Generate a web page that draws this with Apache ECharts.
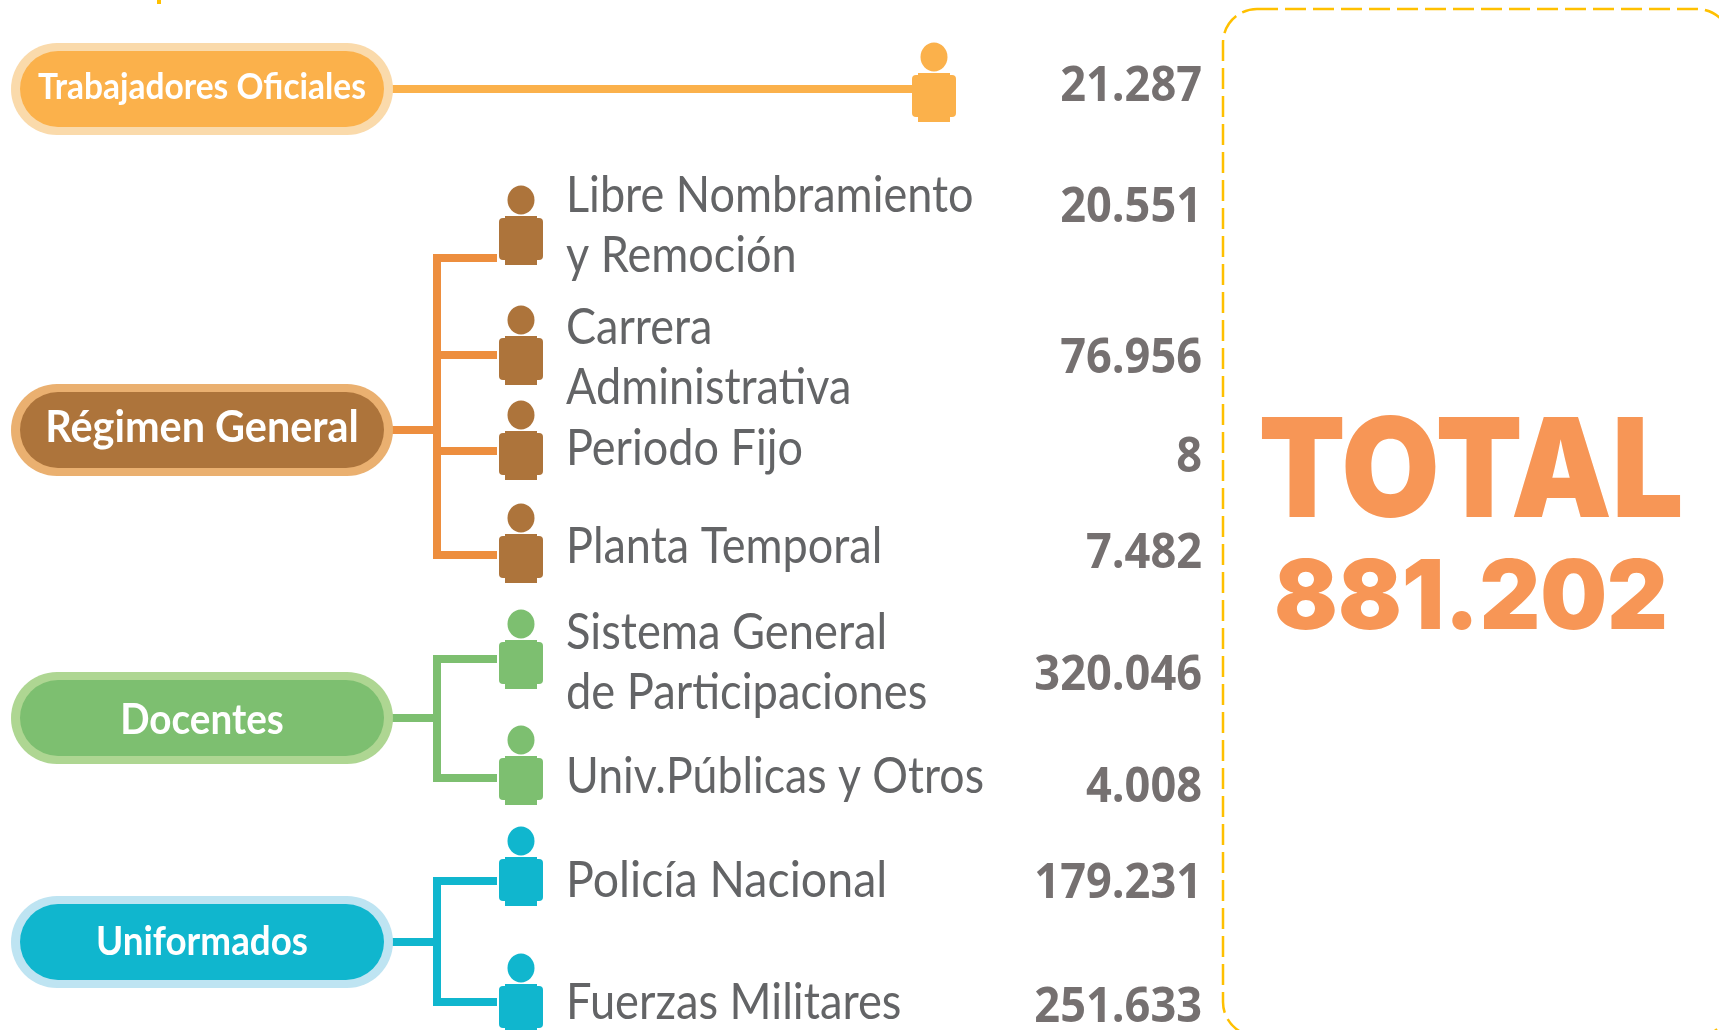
<!DOCTYPE html>
<html>
<head>
<meta charset="utf-8">
<title>Total 881.202</title>
<script src="https://cdn.jsdelivr.net/npm/echarts@6/dist/echarts.min.js"></script>
<style>
html, body { margin: 0; padding: 0; background: #fff; }
#chart { width: 1719px; height: 1030px; }
</style>
</head>
<body>
<div id="chart"></div>
<script>
// datos
const groupNames = ['Trabajadores Oficiales', 'Régimen General', 'Docentes', 'Uniformados'];
const categories = ['', 'Libre Nombramiento\ny Remoción', 'Carrera\nAdministrativa', 'Periodo Fijo', 'Planta Temporal',
    'Sistema General\nde Participaciones', 'Univ.Públicas y Otros', 'Policía Nacional', 'Fuerzas Militares'];
const values = [21287, 20551, 76956, 8, 7482, 320046, 4008, 179231, 251633];
const categoryGroup = [0, 1, 1, 1, 1, 2, 2, 3, 3];
const totalLabel = 'TOTAL';
const totalValue = 881202;

// colores y posiciones (el eje oculto va en px de la imagen)
const groupFill = ['#FBB14B', '#AD743B', '#7DBF70', '#10B6CE'];
const groupRing = ['#FADAAB', '#EAB070', '#AED692', '#BEE4F2'];
const linkColor = ['#FBB14B', '#ED8E3E', '#7DBF70', '#10B6CE'];
const pillY = [89, 430, 718, 942];
const pillFont = [[36, 0.93], [44, 0.94], [42, 0.92], [40, 0.92]];
const pillTextY = [87, 428, 720, 942];
const personX = [934, 521, 521, 521, 521, 521, 521, 521, 521];
const personTop = [73, 216, 336, 431, 534, 640, 756, 857, 984];
const branchY = [89, 258, 355, 451, 555, 659, 778, 881, 1002];
const labelY = [0, 226, 358, 449, 547, 663, 777, 881, 1003];
const labelScale = [1, 0.9, 0.9, 0.9, 0.9, 0.905, 0.893, 0.93, 0.905];
const valueY = [87, 208, 359, 458, 554, 676, 788, 884, 1008];

const chart = echarts.init(document.getElementById('chart'));

function fmt(n) {
    return String(n).replace(/\B(?=(\d{3})+$)/g, '.');
}

function pt(api, x, y) {
    return api.coord([x, y]);
}

function renderPill(params, api) {
    const i = params.dataIndex;
    const a = pt(api, 11, pillY[i] - 46);
    const b = pt(api, 393, pillY[i] + 46);
    const c = pt(api, 202, pillTextY[i]);
    return {
        type: 'group',
        children: [
            { type: 'rect', shape: { x: a[0], y: a[1], width: b[0] - a[0], height: b[1] - a[1], r: 46 }, style: { fill: groupRing[i] } },
            { type: 'rect', shape: { x: a[0] + 9, y: a[1] + 8, width: b[0] - a[0] - 18, height: b[1] - a[1] - 16, r: 38 }, style: { fill: groupFill[i] } },
            {
                type: 'text', x: c[0], y: c[1], scaleX: pillFont[i][1],
                style: { text: groupNames[i], fill: '#fff', fontFamily: 'Lato', fontWeight: 'bold', fontSize: pillFont[i][0], align: 'center', verticalAlign: 'middle' }
            }
        ]
    };
}

function renderLinks(params, api) {
    const g = params.dataIndex;
    const lineStyle = { stroke: linkColor[g], lineWidth: 8, fill: null };
    const rows = values.map((v, i) => i).filter(i => categoryGroup[i] === g);
    const children = [];
    if (g === 0) {
        const a = pt(api, 385, branchY[0]);
        const b = pt(api, 914, branchY[0]);
        children.push({ type: 'line', shape: { x1: a[0], y1: a[1], x2: b[0], y2: b[1] }, style: lineStyle });
    } else {
        const spineX = 437;
        const top = pt(api, spineX, branchY[rows[0]]);
        const bottom = pt(api, spineX, branchY[rows[rows.length - 1]]);
        const from = pt(api, 385, pillY[g]);
        children.push({ type: 'line', shape: { x1: top[0], y1: top[1] - 4, x2: bottom[0], y2: bottom[1] + 4 }, style: lineStyle });
        children.push({ type: 'line', shape: { x1: from[0], y1: from[1], x2: top[0], y2: from[1] }, style: lineStyle });
        rows.forEach(r => {
            const p = pt(api, spineX, branchY[r]);
            const q = pt(api, 497, branchY[r]);
            children.push({ type: 'line', shape: { x1: p[0], y1: p[1], x2: q[0], y2: q[1] }, style: lineStyle });
        });
    }
    return { type: 'group', children };
}

function renderPerson(params, api) {
    const i = params.dataIndex;
    const p = pt(api, personX[i], personTop[i]);
    const fill = groupFill[categoryGroup[i]];
    const w = 44, h = 49;
    return {
        type: 'group',
        children: [
            { type: 'ellipse', shape: { cx: p[0], cy: p[1] - 16, rx: 13.5, ry: 14.5 }, style: { fill } },
            { type: 'rect', shape: { x: p[0] - 16, y: p[1], width: 32, height: h }, style: { fill } },
            { type: 'rect', shape: { x: p[0] - w / 2, y: p[1] + 2, width: w, height: h - 7, r: 4 }, style: { fill } }
        ]
    };
}

function renderLabel(params, api) {
    const i = params.dataIndex;
    if (!categories[i]) return null;
    const p = pt(api, 566, labelY[i]);
    return {
        type: 'text', x: p[0], y: p[1], scaleX: labelScale[i],
        style: { text: categories[i], fill: '#636466', fontFamily: 'Lato', fontWeight: 400, fontSize: 50, lineHeight: 60, align: 'left', verticalAlign: 'middle' }
    };
}

function renderValue(params, api) {
    const i = params.dataIndex;
    const p = pt(api, 1202, valueY[i]);
    return {
        type: 'text', x: p[0], y: p[1], scaleX: 0.94,
        style: { text: fmt(values[i]), fill: '#757070', fontFamily: 'Open Sans', fontWeight: 'bold', fontSize: 48, align: 'right', verticalAlign: 'middle' }
    };
}

function renderTotal(params, api) {
    const a = pt(api, 1471, 476);
    const b = pt(api, 1471, 600);
    return {
        type: 'group',
        children: [
            { type: 'text', x: a[0], y: a[1], scaleX: 0.92, style: { text: totalLabel, fill: '#F79656', fontFamily: 'Inter', fontWeight: 900, fontSize: 138, align: 'center', verticalAlign: 'middle' } },
            { type: 'text', x: b[0], y: b[1], scaleX: 0.98, style: { text: fmt(totalValue), fill: '#F79656', fontFamily: 'Inter', fontWeight: 900, fontSize: 96, align: 'center', verticalAlign: 'middle' } }
        ]
    };
}

function renderFrame(params, api) {
    const a = pt(api, 1223, 9);
    const b = pt(api, 1719, 1030);
    const stub = pt(api, 159, 0);
    const dash = { stroke: '#FFC000', lineWidth: 2.5, fill: null, lineDash: [21, 7] };
    return {
        type: 'group',
        children: [
            { type: 'rect', shape: { x: a[0], y: a[1], width: b[0] - a[0] + 12, height: b[1] - a[1] + 6, r: 34 }, style: dash },
            { type: 'line', shape: { x1: stub[0], y1: stub[1], x2: stub[0], y2: stub[1] + 4 }, style: { stroke: '#FFC000', lineWidth: 4 } }
        ]
    };
}

function custom(data, renderItem) {
    return { type: 'custom', coordinateSystem: 'cartesian2d', silent: true, clip: false, data, renderItem };
}

chart.setOption({
    animation: false,
    backgroundColor: '#fff',
    tooltip: { show: false },
    grid: { left: 0, right: 0, top: 0, bottom: 0 },
    xAxis: { type: 'value', min: 0, max: 1719, show: false },
    yAxis: { type: 'value', min: 0, max: 1030, inverse: true, show: false },
    series: [
        custom([0], renderFrame),
        custom(groupNames.map((n, i) => i), renderLinks),
        custom(groupNames.map((n, i) => i), renderPill),
        custom(values.map((v, i) => i), renderPerson),
        custom(categories.map((c, i) => i), renderLabel),
        custom(values, renderValue),
        custom([totalValue], renderTotal)
    ]
});
</script>
</body>
</html>
